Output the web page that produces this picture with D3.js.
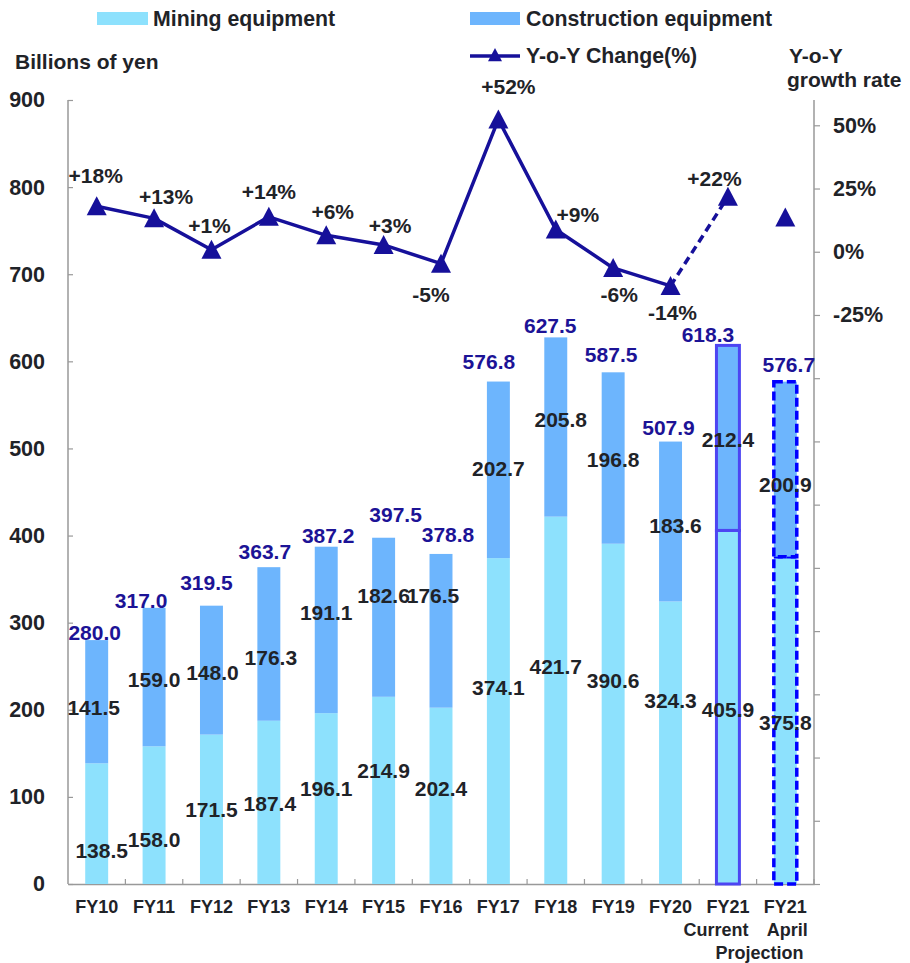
<!DOCTYPE html>
<html>
<head>
<meta charset="utf-8">
<script src="https://cdn.jsdelivr.net/npm/d3@7"></script>
<style>
  html, body { margin: 0; padding: 0; background: #fff; }
  svg { display: block; font-family: "Liberation Sans", Arial, sans-serif; font-weight: bold; }
</style>
</head>
<body>
<script>
// ---------------- DATA ----------------
const categories = ["FY10","FY11","FY12","FY13","FY14","FY15","FY16","FY17","FY18","FY19","FY20","FY21 Current","FY21 April"];
const categoryLines = [["FY10"],["FY11"],["FY12"],["FY13"],["FY14"],["FY15"],["FY16"],["FY17"],["FY18"],["FY19"],["FY20"],["FY21","Current"],["FY21","April"]];
const mining       = [138.5,158.0,171.5,187.4,196.1,214.9,202.4,374.1,421.7,390.6,324.3,405.9,375.8];
const construction = [141.5,159.0,148.0,176.3,191.1,182.6,176.5,202.7,205.8,196.8,183.6,212.4,200.9];
const totals       = [280.0,317.0,319.5,363.7,387.2,397.5,378.8,576.8,627.5,587.5,507.9,618.3,576.7];
const yoy          = [18.0,13.2,0.8,13.8,6.5,2.7,-4.7,52.3,8.8,-6.4,-13.5,21.7,13.5];
const yoyLabels    = ["+18%","+13%","+1%","+14%","+6%","+3%","-5%","+52%","+9%","-6%","-14%","+22%",""];
const leftTicks    = [0,100,200,300,400,500,600,700,800,900];
const rightTicks   = [-250,-225,-200,-175,-150,-125,-100,-75,-50,-25,0,25,50];
const rightTickLabels = {"-25":"-25%","0":"0%","25":"25%","50":"50%"};

// ---------------- LAYOUT (label placement, in data units / px offsets) ----------------
const miningLabelAt = [38.5,51,85.5,92,110,130,110,225,249,234,210.5,200,185.5];
const constrLabelAt = [202.5,235,243,260,311,330.5,330.5,477,533,487,411.5,510,458];
const miningLabelDx = [5,0,0,1,0,0,0,0,0,0,0,0,0];
const constrLabelDx = [-3,0,1,2,0,0,-8,0,5,0,5,0,0];
const totalLift     = [7.5,7,23.5,16,11.5,23.5,19,19.5,12,17.5,13.5,11,16.5];
const totalDx       = [-2,-13,-5,-4,2,12,7,-9.5,-5.5,-2,-2,-20,3.5];
const pctDx = [-1,12,-2,0,6.5,6.5,-10,10,22,6,2,-13.5,0];
const pctDy = [-31,-22,-24,-25,-24,-19.5,31,-33,-15,26.5,26.5,-18,0];

const W = 910, H = 963;
const plot = {left: 68, right: 814, top: 100, bottom: 884};
const C = {mining: "#8DE1FD", constr: "#6DB5FD", line: "#16109A", total: "#1C1396", text: "#1F2328", axis: "#999999"};
const FS = 21;

const svg = d3.select("body").append("svg").attr("width", W).attr("height", H);

const x = d3.scaleBand().domain(categories).range([plot.left, plot.right]).padding(0);
const y = d3.scaleLinear().domain([0, 900]).range([plot.bottom, plot.top]);
const y2 = d3.scaleLinear().domain([-250, 60]).range([plot.bottom, plot.top]);
const bw = x.bandwidth() * 0.4;
const cx = i => x(categories[i]) + x.bandwidth() / 2;

// ---------------- AXES ----------------
const leftAxis = d3.axisLeft(y).tickValues(leftTicks).tickSize(-5).tickPadding(23).tickFormat(d3.format("d"));
const gL = svg.append("g").attr("transform", `translate(${plot.left},0)`).call(leftAxis);
const rightAxis = d3.axisRight(y2).tickValues(rightTicks).tickSize(6).tickPadding(13).tickFormat(d => rightTickLabels[String(d)] || "");
const gR = svg.append("g").attr("transform", `translate(${plot.right},0)`).call(rightAxis);
const gB = svg.append("g").attr("transform", `translate(0,${plot.bottom})`)
  .call(d3.axisBottom(x).tickSize(0).tickFormat(""));
[gL, gR, gB].forEach(g => {
  g.select(".domain").attr("stroke", C.axis).attr("stroke-width", 1.5);
  g.selectAll(".tick line").attr("stroke", C.axis).attr("stroke-width", 1.2);
  g.selectAll(".tick text").attr("fill", C.text).attr("font-size", 21.5).attr("font-family", "Liberation Sans, Arial, sans-serif").attr("font-weight", "bold");
});
gL.select(".domain").attr("d", `M-0,${plot.bottom}V${plot.top}`);
gR.select(".domain").attr("d", `M0,${plot.bottom}V${plot.top}`);
// category boundary ticks on x axis (pointing up)
gB.selectAll(".bt").data(categories).enter().append("line")
  .attr("x1", (d, i) => x(categories[i]) + x.bandwidth()).attr("x2", (d, i) => x(categories[i]) + x.bandwidth())
  .attr("y1", 0).attr("y2", -5).attr("stroke", C.axis).attr("stroke-width", 1.2);

// category labels
const catG = svg.append("g");
categoryLines.forEach((lines, i) => {
  lines.forEach((t, j) => {
    catG.append("text").attr("x", cx(i) + (j > 0 ? (i === 11 ? -12 : 2) : 0)).attr("y", 907 + j * 23)
      .attr("dy", "0.35em").attr("text-anchor", "middle").attr("font-size", 18).attr("fill", C.text).text(t);
  });
});
catG.append("text").attr("x", (cx(11) + cx(12)) / 2 + 3).attr("y", 953).attr("dy", "0.35em")
  .attr("text-anchor", "middle").attr("font-size", 18).attr("fill", C.text).text("Projection");

// ---------------- BARS ----------------
const barG = svg.append("g");
categories.forEach((c, i) => {
  const x0 = cx(i) - bw / 2;
  const mRect = barG.append("rect").attr("x", x0).attr("width", bw)
    .attr("y", y(mining[i])).attr("height", y(0) - y(mining[i])).attr("fill", C.mining);
  const cRect = barG.append("rect").attr("x", x0).attr("width", bw)
    .attr("y", y(mining[i] + construction[i])).attr("height", y(mining[i]) - y(mining[i] + construction[i])).attr("fill", C.constr);
  if (i === 11) {
    [mRect, cRect].forEach(r => r.attr("stroke", "#4D45F2").attr("stroke-width", 3));
  }
  if (i === 12) {
    [mRect, cRect].forEach(r => r.attr("stroke", "#0000FF").attr("stroke-width", 3.5).attr("stroke-dasharray", "9,4"));
  }
});

// segment labels
const lblG = svg.append("g");
categories.forEach((c, i) => {
  lblG.append("text").attr("x", cx(i) + miningLabelDx[i]).attr("y", y(miningLabelAt[i])).attr("dy", "0.35em")
    .attr("text-anchor", "middle").attr("font-size", FS).attr("fill", C.text).text(mining[i].toFixed(1));
  lblG.append("text").attr("x", cx(i) + constrLabelDx[i]).attr("y", y(constrLabelAt[i])).attr("dy", "0.35em")
    .attr("text-anchor", "middle").attr("font-size", FS).attr("fill", C.text).text(construction[i].toFixed(1));
  lblG.append("text").attr("x", cx(i) + totalDx[i]).attr("y", y(totals[i]) - totalLift[i]).attr("dy", "0.35em")
    .attr("text-anchor", "middle").attr("font-size", FS).attr("fill", C.total).text(totals[i].toFixed(1));
});

// ---------------- LINE ----------------
const lineG = svg.append("g");
const line = d3.line().x(d => cx(d.i)).y(d => y2(d.v));
const pts = yoy.map((v, i) => ({i, v}));
lineG.append("path").datum(pts.slice(0, 11)).attr("d", line).attr("fill", "none")
  .attr("stroke", C.line).attr("stroke-width", 3.5).attr("stroke-linejoin", "round");
lineG.append("path").datum(pts.slice(10, 12)).attr("d", line).attr("fill", "none")
  .attr("stroke", C.line).attr("stroke-width", 3.5).attr("stroke-dasharray", "8,5");
const tri = (px, py, s) => `M${px},${py - s}L${px + s},${py + s * 0.9}L${px - s},${py + s * 0.9}Z`;
pts.forEach(p => {
  lineG.append("path").attr("d", tri(cx(p.i), y2(p.v), 10)).attr("fill", C.line);
});
pts.forEach((p, i) => {
  if (!yoyLabels[i]) return;
  lineG.append("text").attr("x", cx(i) + pctDx[i]).attr("y", y2(p.v) + pctDy[i]).attr("dy", "0.35em")
    .attr("text-anchor", "middle").attr("font-size", FS).attr("fill", C.text).text(yoyLabels[i]);
});

// ---------------- TITLES & LEGEND ----------------
svg.append("text").attr("x", 15).attr("y", 62).attr("dy", "0.35em").attr("font-size", 21).attr("fill", C.text).text("Billions of yen");
svg.append("text").attr("x", 789).attr("y", 56).attr("dy", "0.35em").attr("font-size", 21).attr("fill", C.text).text("Y-o-Y");
svg.append("text").attr("x", 787).attr("y", 80).attr("dy", "0.35em").attr("font-size", 21).attr("fill", C.text).text("growth rate");

const leg = svg.append("g");
leg.append("rect").attr("x", 97).attr("y", 12).attr("width", 51).attr("height", 13).attr("fill", C.mining);
leg.append("text").attr("x", 153).attr("y", 18.5).attr("dy", "0.35em").attr("font-size", 21.3).attr("fill", C.text).text("Mining equipment");
leg.append("rect").attr("x", 470).attr("y", 12).attr("width", 50).attr("height", 13).attr("fill", C.constr);
leg.append("text").attr("x", 526).attr("y", 18.5).attr("dy", "0.35em").attr("font-size", 21.3).attr("fill", C.text).text("Construction equipment");
leg.append("line").attr("x1", 470).attr("x2", 520).attr("y1", 56).attr("y2", 56).attr("stroke", C.line).attr("stroke-width", 3.5);
leg.append("path").attr("d", tri(495, 55, 7)).attr("fill", C.line);
leg.append("text").attr("x", 526).attr("y", 56).attr("dy", "0.35em").attr("font-size", 21.3).attr("fill", C.text).text("Y-o-Y Change(%)");
</script>
</body>
</html>
